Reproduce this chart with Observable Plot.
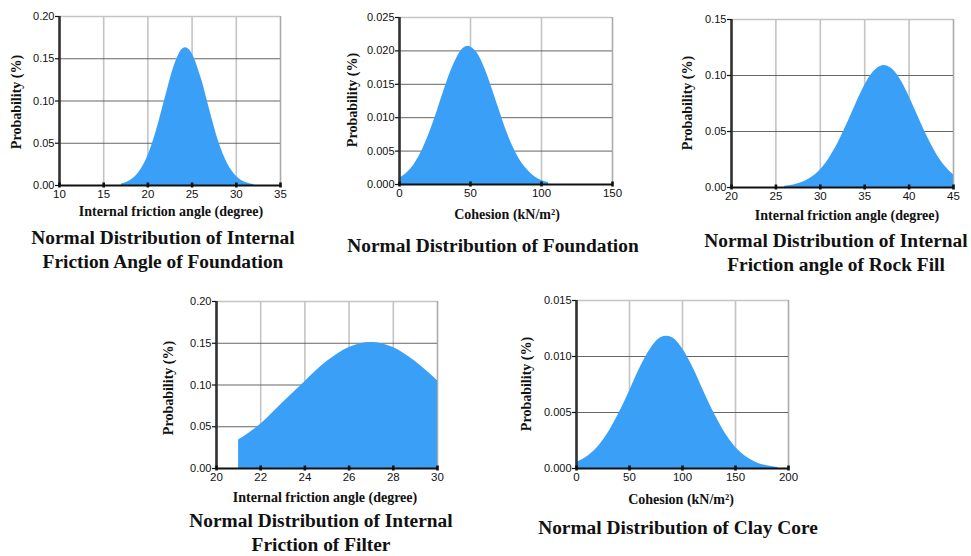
<!DOCTYPE html>
<html>
<head>
<meta charset="utf-8">
<script src="https://cdn.jsdelivr.net/npm/d3@7"></script>
<script src="https://cdn.jsdelivr.net/npm/@observablehq/plot@0.6"></script>
<style>
  html, body { margin: 0; padding: 0; background: #fff; }
  #wrap { position: relative; width: 971px; height: 556px; overflow: hidden; background: #fff; }
  .svgbox { position: absolute; }
  .xlab, .ylab, .title { position: absolute; font-family: "Liberation Serif", "Times New Roman", serif; font-weight: bold; color: #111; white-space: nowrap; }
  .xlab { font-size: 14px; transform: translate(-50%, -50%); }
  .ylab { font-size: 14px; transform: translate(-50%, -50%) rotate(-90deg); }
  .title { font-size: 19.4px; transform: translate(-50%, -50%); text-align: center; line-height: 24px; }
</style>
</head>
<body>
<div id="wrap"></div>
<script>
// Panel 1: internal friction angle of foundation
const p1X = [17, 18, 19, 20, 21, 22, 23, 24, 24.3, 25, 26, 27, 28, 29, 30, 31, 32];
const p1Y = [0.0019, 0.006, 0.0157, 0.035, 0.066, 0.105, 0.142, 0.162, 0.163, 0.156, 0.128, 0.089, 0.052, 0.026, 0.011, 0.0039, 0.0012];
// Panel 2: cohesion of foundation
const p2X = [0, 5, 10, 15, 20, 25, 30, 35, 40, 45, 48.5, 50, 55, 60, 65, 70, 75, 80, 85, 90, 95, 100, 105];
const p2Y = [0.00094, 0.0017, 0.0029, 0.0047, 0.0071, 0.0100, 0.0132, 0.0163, 0.0188, 0.0204, 0.0207, 0.0206, 0.0196, 0.0174, 0.0145, 0.0113, 0.0082, 0.0056, 0.0036, 0.0022, 0.0012, 0.0006, 0.0003];
// Panel 3: internal friction angle of rock fill
const p3X = [26, 27, 28, 29, 30, 31, 32, 33, 34, 35, 36, 37, 37.2, 38, 39, 40, 41, 42, 43, 44, 45];
const p3Y = [0.0011, 0.0022, 0.0046, 0.0089, 0.0157, 0.026, 0.0397, 0.0564, 0.0744, 0.091, 0.1033, 0.1088, 0.109, 0.1064, 0.0966, 0.0813, 0.0636, 0.0461, 0.0311, 0.0194, 0.0113];
// Panel 4: internal friction of filter
const p4X = [21, 22, 23, 24, 25, 26, 27, 28, 29, 30];
const p4Y = [0.034, 0.053, 0.0786, 0.104, 0.128, 0.145, 0.151, 0.145, 0.128, 0.105];
// Panel 5: cohesion of clay core
const p5X = [0, 10, 20, 30, 40, 50, 60, 70, 80, 85, 90, 100, 110, 120, 130, 140, 150, 160, 170, 180, 190];
const p5Y = [0.00052, 0.00104, 0.0019, 0.0032, 0.0049, 0.0069, 0.0090, 0.0107, 0.0117, 0.0118, 0.0117, 0.0107, 0.0090, 0.0069, 0.0049, 0.0032, 0.0019, 0.00104, 0.00052, 0.00024, 0.0001];

const panels = [
  {xs: p1X, ys: p1Y, xDom: [10, 35], xTicks: [10, 15, 20, 25, 30, 35], yDom: [0, 0.2], yTicks: [0, 0.05, 0.10, 0.15, 0.20], yFmt: ".2f",
   frame: [59, 16, 280, 185], xLabel: "Internal friction angle (degree)", xLabPos: [171, 212], yLabPos: [17, 102],
   title: ["Normal Distribution of Internal", "Friction Angle of Foundation"], titlePos: [163, 250]},
  {xs: p2X, ys: p2Y, xDom: [0, 150], xTicks: [0, 50, 100, 150], yDom: [0, 0.025], yTicks: [0, 0.005, 0.010, 0.015, 0.020, 0.025], yFmt: ".3f",
   frame: [399, 17, 612, 184], xLabel: "Cohesion (kN/m²)", xLabPos: [507, 215], yLabPos: [353, 100],
   title: ["Normal Distribution of  Foundation"], titlePos: [493, 246]},
  {xs: p3X, ys: p3Y, xDom: [20, 45], xTicks: [20, 25, 30, 35, 40, 45], yDom: [0, 0.15], yTicks: [0, 0.05, 0.10, 0.15], yFmt: ".2f",
   frame: [731, 19, 953, 187], xLabel: "Internal friction angle (degree)", xLabPos: [847, 216], yLabPos: [688, 103],
   title: ["Normal Distribution of Internal", "Friction angle of Rock Fill"], titlePos: [836, 253]},
  {xs: p4X, ys: p4Y, xDom: [20, 30], xTicks: [20, 22, 24, 26, 28, 30], yDom: [0, 0.2], yTicks: [0, 0.05, 0.10, 0.15, 0.20], yFmt: ".2f",
   frame: [216, 301, 437, 468], xLabel: "Internal friction angle (degree)", xLabPos: [325, 498], yLabPos: [169, 388],
   title: ["Normal Distribution of Internal", "Friction of Filter"], titlePos: [321, 533]},
  {xs: p5X, ys: p5Y, xDom: [0, 200], xTicks: [0, 50, 100, 150, 200], yDom: [0, 0.015], yTicks: [0, 0.005, 0.010, 0.015], yFmt: ".3f",
   frame: [576, 300, 788, 468], xLabel: "Cohesion (kN/m²)", xLabPos: [681, 500], yLabPos: [527, 384],
   title: ["Normal Distribution of Clay Core"], titlePos: [678, 528]}
];

const wrap = document.getElementById("wrap");
const ML = 60, MR = 14, MT = 10, MB = 32;

panels.forEach(p => {
  const [fx0, fy0, fx1, fy1] = p.frame;
  const W = (fx1 - fx0) + ML + MR;
  const H = (fy1 - fy0) + MT + MB;
  const data = p.xs.map((x, i) => ({x, y: p.ys[i]}));
  const chart = Plot.plot({
    width: W, height: H,
    marginLeft: ML, marginRight: MR, marginTop: MT, marginBottom: MB,
    style: {background: "transparent", fontFamily: "'Liberation Sans', Arial, sans-serif", fontSize: "11px", color: "#111", overflow: "visible"},
    x: {type: "linear", domain: p.xDom, label: null},
    y: {type: "linear", domain: p.yDom, label: null},
    marks: [
      Plot.gridX(p.xTicks, {stroke: "#c4c4c4", strokeOpacity: 1, strokeWidth: 1.6}),
      Plot.gridY(p.yTicks, {stroke: "#555", strokeOpacity: 1, strokeWidth: 0.9}),
      Plot.areaY(data, {x: "x", y: "y", fill: "#3a9ff7", curve: "monotone-x"}),
      Plot.ruleY([p.yDom[1]], {stroke: "#c4c4c4", strokeWidth: 1.4}),
      Plot.ruleX([p.xDom[1]], {stroke: "#aaa", strokeWidth: 1.2}),
      Plot.ruleX([p.xDom[0]], {stroke: "#333", strokeWidth: 2.6}),
      Plot.ruleY([0], {stroke: "#111", strokeWidth: 2}),
      Plot.axisY(p.yTicks, {tickFormat: d3.format(p.yFmt), tickSize: 4, tickPadding: 1, stroke: "#111", strokeWidth: 1.2, fontSize: 11, fill: "#111"}),
      Plot.axisX(p.xTicks, {tickFormat: () => "", tickSize: 5, dy: -2.5, stroke: "#111", strokeWidth: 2.6}),
      Plot.axisX(p.xTicks, {tickFormat: d => String(d), tickSize: 0, tickPadding: 4, fontSize: 11.5, fill: "#111"})
    ]
  });
  const box = document.createElement("div");
  box.className = "svgbox";
  box.style.left = (fx0 - ML) + "px";
  box.style.top = (fy0 - MT) + "px";
  box.appendChild(chart);
  wrap.appendChild(box);

  const xl = document.createElement("div");
  xl.className = "xlab";
  xl.style.left = p.xLabPos[0] + "px";
  xl.style.top = p.xLabPos[1] + "px";
  xl.textContent = p.xLabel;
  wrap.appendChild(xl);

  const yl = document.createElement("div");
  yl.className = "ylab";
  yl.style.left = p.yLabPos[0] + "px";
  yl.style.top = p.yLabPos[1] + "px";
  yl.textContent = "Probability (%)";
  wrap.appendChild(yl);

  const t = document.createElement("div");
  t.className = "title";
  t.style.left = p.titlePos[0] + "px";
  t.style.top = p.titlePos[1] + "px";
  t.innerHTML = p.title.join("<br>");
  wrap.appendChild(t);
});
</script>
</body>
</html>
